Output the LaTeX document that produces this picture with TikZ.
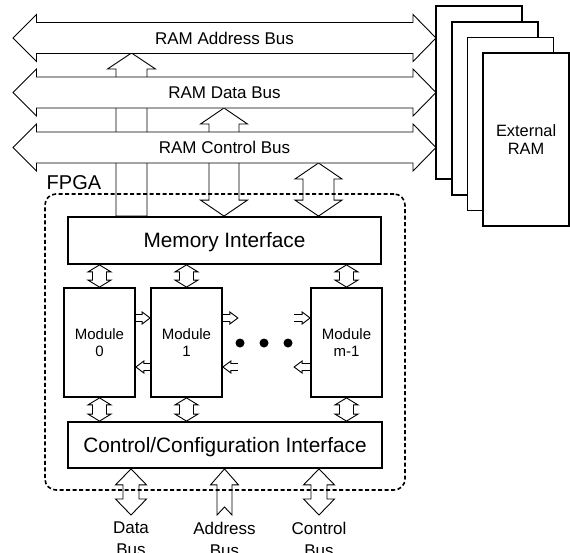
\documentclass[tikz,border=0pt]{standalone}
\usepackage{fontspec}
\setmainfont{Liberation Sans}
\usetikzlibrary{calc}
% vertical double block arrow: top point, bottom point, half head, half shaft, head length
\newcommand{\VDbl}[5]{\draw[blk] let \p1=(#1), \p2=(#2) in
  (\x1,\y1) -- (\x1+#3pt,\y1-#5pt) -- (\x1+#4pt,\y1-#5pt) -- (\x1+#4pt,\y2+#5pt) -- (\x1+#3pt,\y2+#5pt)
  -- (\x1,\y2) -- (\x1-#3pt,\y2+#5pt) -- (\x1-#4pt,\y2+#5pt) -- (\x1-#4pt,\y1-#5pt) -- (\x1-#3pt,\y1-#5pt) -- cycle;}
% vertical single up block arrow (tip at top), flat tail
\newcommand{\VUp}[5]{\draw[blk] let \p1=(#1), \p2=(#2) in
  (\x1,\y1) -- (\x1+#3pt,\y1-#5pt) -- (\x1+#4pt,\y1-#5pt) -- (\x1+#4pt,\y2) -- (\x1-#4pt,\y2)
  -- (\x1-#4pt,\y1-#5pt) -- (\x1-#3pt,\y1-#5pt) -- cycle;}
% vertical single up block arrow with notched tail
\newcommand{\VUpN}[6]{\draw[blk] let \p1=(#1), \p2=(#2) in
  (\x1,\y1) -- (\x1+#3pt,\y1-#5pt) -- (\x1+#4pt,\y1-#5pt) -- (\x1+#4pt,\y2) -- (\x1,\y2+#6pt) -- (\x1-#4pt,\y2)
  -- (\x1-#4pt,\y1-#5pt) -- (\x1-#3pt,\y1-#5pt) -- cycle;}
% horizontal open block arrows: tail point, tip point, half head, half shaft, head length
\newcommand{\HRight}[5]{\draw[opn] let \p1=(#1), \p2=(#2) in
  (\x1,\y1+#4pt) -- (\x2-#5pt,\y1+#4pt) -- (\x2-#5pt,\y1+#3pt) -- (\x2,\y1) -- (\x2-#5pt,\y1-#3pt) -- (\x2-#5pt,\y1-#4pt) -- (\x1,\y1-#4pt);}
\newcommand{\HLeft}[5]{\draw[opn] let \p1=(#1), \p2=(#2) in
  (\x1,\y1+#4pt) -- (\x2+#5pt,\y1+#4pt) -- (\x2+#5pt,\y1+#3pt) -- (\x2,\y1) -- (\x2+#5pt,\y1-#3pt) -- (\x2+#5pt,\y1-#4pt) -- (\x1,\y1-#4pt);}
% horizontal bus double arrow between two tip points
\newcommand{\HBus}[2]{\draw[blk] let \p1=(#1), \p2=(#2) in
  (\x1,\y1) -- (\x1+23.5pt,\y1+23.5pt) -- (\x1+23.5pt,\y1+15.5pt) -- (\x2-23pt,\y1+15.5pt) -- (\x2-23pt,\y1+23.5pt)
  -- (\x2,\y1) -- (\x2-23pt,\y1-23.5pt) -- (\x2-23pt,\y1-15.5pt) -- (\x1+23.5pt,\y1-15.5pt) -- (\x1+23.5pt,\y1-23.5pt) -- cycle;}
\begin{document}
\begin{tikzpicture}[x=1pt,y=-1pt,
  box/.style={draw,line width=1.8pt,fill=white,inner sep=0pt},
  blk/.style={draw,line width=0.9pt,fill=white,line join=miter},
  opn/.style={draw,line width=0.9pt,line join=miter},
  fpgabox/.style={draw,line width=1.6pt,dash pattern=on 4pt off 2.5pt,rounded corners=11pt,inner sep=0pt},
  buslbl/.style={font=\fontsize{17}{20}\selectfont,inner sep=0pt,align=center},
  botlbl/.style={font=\fontsize{17}{22}\selectfont,inner sep=0pt,align=center,anchor=north},
  modbox/.style={box,minimum width=71pt,minimum height=109pt,font=\fontsize{15}{17.5}\selectfont,align=center},
  ifbox/.style={box,minimum width=313pt,font=\fontsize{20.8}{24}\selectfont,text height=14.9pt,text depth=0pt},
  rambox/.style={box,minimum width=86pt,minimum height=173pt},
  dot/.style={circle,fill=black,inner sep=0pt,minimum size=9pt}]
\useasboundingbox (0,0) rectangle (570,552);

% bus tip coordinates
\coordinate (abL) at (13,38);   \coordinate (abR) at (436,38);
\coordinate (dbL) at (13,92.5); \coordinate (dbR) at (436,92.5);
\coordinate (cbL) at (13,147.5);\coordinate (cbR) at (436,147.5);
\coordinate (abBot) at (131.5,53);
\coordinate (dbBot) at (224,108);
\coordinate (cbBot) at (318.5,163);

% boxes inside FPGA (placed first so arrows can refer to them)
\node[ifbox,minimum height=47pt] (mem) at (224.5,240.5) {Memory Interface};
\node[ifbox,minimum width=314pt,minimum height=46pt] (ctrl) at (225,445) {Control/Configuration Interface};

% arrows from memory interface to the buses (drawn under the buses)
\VUp{abBot}{abBot |- mem.north}{24}{15.5}{16}
\VDbl{dbBot}{dbBot |- mem.north}{23.5}{15}{16}
\VDbl{cbBot}{cbBot |- mem.north}{23.5}{15.5}{16}

% buses
\HBus{abL}{abR}
\HBus{dbL}{dbR}
\HBus{cbL}{cbR}
\node[buslbl] (abl) at (224.5,38) {RAM Address Bus};
\node[buslbl] (dbl) at (224.5,92.5) {RAM Data Bus};
\node[buslbl] (cbl) at (224.5,147.5) {RAM Control Bus};

% external RAM stack
\node[rambox] (ram1) at (479,92.5) {};
\node[rambox] (ram2) at (494.7,108.2) {};
\node[rambox] (ram3) at (510.4,123.9) {};
\node[rambox,font=\fontsize{16.4}{18.5}\selectfont,align=center] (ram4) at (526.1,139.6) {External\\RAM};

% redraw interface boxes on top of arrow tails
\node[ifbox,minimum height=47pt] (mem) at (224.5,240.5) {Memory Interface};
\node[ifbox,minimum width=314pt,minimum height=46pt] (ctrl) at (225,445) {Control/Configuration Interface};

% modules
\node[modbox] (m0) at (99.5,342.5) {Module\\0};
\node[modbox] (m1) at (186.5,342.5) {Module\\1};
\node[modbox] (mm) at (346.5,342.5) {Module\\m-1};

% small vertical arrows
\VDbl{m0.north |- mem.south}{m0.north}{11.5}{7}{7}
\VDbl{m1.north |- mem.south}{m1.north}{11.5}{7}{7}
\VDbl{mm.north |- mem.south}{mm.north}{11.5}{7}{7}
\VDbl{m0.south}{m0.south |- ctrl.north}{11.5}{7}{7}
\VDbl{m1.south}{m1.south |- ctrl.north}{11.5}{7}{7}
\VDbl{mm.south}{mm.south |- ctrl.north}{11.5}{7}{7}

% horizontal arrows between modules
\coordinate (r0) at ($(m0.east)+(0,-24.5)$);
\coordinate (r1) at ($(m1.west)+(0,-24.5)$);
\coordinate (l0) at ($(m0.east)+(0,24.5)$);
\coordinate (l1) at ($(m1.west)+(0,24.5)$);
\coordinate (r1o) at ($(m1.east)+(0,-24.5)$);
\coordinate (r1e) at ($(m1.east)+(15,-24.5)$);
\coordinate (l1o) at ($(m1.east)+(0,24.5)$);
\coordinate (l1e) at ($(m1.east)+(15,24.5)$);
\coordinate (rmi) at ($(mm.west)+(0,-24.5)$);
\coordinate (rms) at ($(mm.west)+(-16,-24.5)$);
\coordinate (lmi) at ($(mm.west)+(0,24.5)$);
\coordinate (lms) at ($(mm.west)+(-16,24.5)$);
\HRight{r0}{r1}{6}{3.5}{8}
\HLeft{l1}{l0}{6}{3.5}{8}
\HRight{r1o}{r1e}{6}{3.5}{8}
\HLeft{l1e}{l1o}{6}{3.5}{8}
\HRight{rms}{rmi}{6}{3.5}{8}
\HLeft{lmi}{lms}{6}{3.5}{8}

% dots
\node[dot] (d1) at (240,343) {};
\node[dot] (d2) at (264,343) {};
\node[dot] (d3) at (288,343) {};

% bottom arrows
\coordinate (dataEnd) at (131,515);
\coordinate (addrEnd) at (224.5,515);
\coordinate (ctrlEnd) at (319,515);
\VDbl{dataEnd |- ctrl.south}{dataEnd}{15.5}{8}{16}
\VUpN{addrEnd |- ctrl.south}{addrEnd}{14}{7.5}{16}{8}
\VDbl{ctrlEnd |- ctrl.south}{ctrlEnd}{15.5}{8}{16}

% FPGA region
\node[fpgabox,minimum width=360pt,minimum height=296pt] (fpga) at (225,342) {};
\node[font=\fontsize{20}{24}\selectfont,inner sep=0pt,anchor=base west] (fpgal) at (46.5,189) {FPGA};

% bottom labels
\node[botlbl] (datal) at (131,522) {Data\\Bus};
\node[botlbl] (addrl) at (224.5,522) {Address\\Bus};
\node[botlbl] (ctrll) at (319,522) {Control\\Bus};
\end{tikzpicture}
\end{document}
